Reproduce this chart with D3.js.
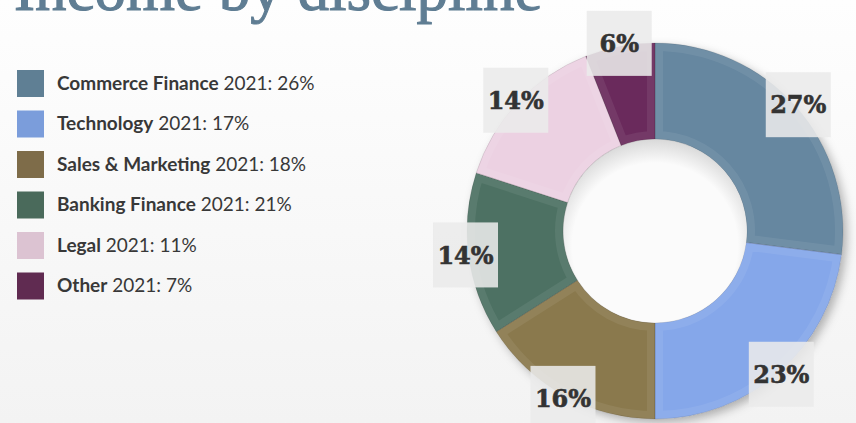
<!DOCTYPE html>
<html><head><meta charset="utf-8">
<script src="https://cdn.jsdelivr.net/npm/d3@7/dist/d3.min.js"></script>
<style>html,body{margin:0;padding:0;background:#fff;}svg{display:block;}</style>
</head><body>
<svg id="chart" width="856" height="423"></svg>
<script>
const title = "Income by discipline";
const categories = ["Commerce Finance","Technology","Sales & Marketing","Banking Finance","Legal","Other"];
const chartValues = [27, 23, 16, 14, 14, 6];
const legendYear = "2021";
const legendValues = [26, 17, 18, 21, 11, 7];

const sliceColors = ["#6687a0","#85a7ea","#8a794e","#4e7163","#ecd1e2","#6b2a5c"];
const legendColors = ["#5f7f94","#7b9ddb","#7e6c49","#4a6a5b","#dcc3d2","#602b51"];

const W = 856, H = 423;
const svg = d3.select("#chart");
const defs = svg.append("defs");

const bg = defs.append("linearGradient").attr("id","bg").attr("x1",0).attr("y1",0).attr("x2",0).attr("y2",1);
bg.append("stop").attr("offset","0%").attr("stop-color","#fefefe");
bg.append("stop").attr("offset","100%").attr("stop-color","#f3f3f3");
svg.append("rect").attr("width",W).attr("height",H).attr("fill","url(#bg)");

const sh = defs.append("filter").attr("id","shadow").attr("x","-20%").attr("y","-20%").attr("width","140%").attr("height","140%");
sh.append("feDropShadow").attr("dx",4).attr("dy",4).attr("stdDeviation",5).attr("flood-color","#000").attr("flood-opacity",0.28);

const hole = defs.append("radialGradient").attr("id","hole").attr("cx","50%").attr("cy","58%").attr("r","58%");
hole.append("stop").attr("offset","78%").attr("stop-color","#fbfbfb");
hole.append("stop").attr("offset","100%").attr("stop-color","#d9d9d9");

// Title
svg.append("text").attr("x",14).attr("y",10)
  .attr("font-family","'Liberation Serif','Times New Roman',serif")
  .attr("font-size",63).attr("fill","#5f7d93")
  .attr("stroke","#5f7d93").attr("stroke-width",1.1).text(title);

// Legend
const ly = d3.scaleLinear().domain([0,1]).range([70,110.5]);
const lg = svg.append("g").attr("font-family","Lato,'Open Sans',sans-serif").attr("font-size",19).attr("fill","#383838");
categories.forEach((c,i)=>{
  lg.append("rect").attr("x",17).attr("y",ly(i)).attr("width",27).attr("height",27).attr("fill",legendColors[i]);
  const t = lg.append("text").attr("x",57).attr("y",ly(i)+19.5);
  t.append("tspan").attr("font-weight","bold").text(c);
  t.append("tspan").text(" " + legendYear + ": " + legendValues[i] + "%");
});

// Donut
const cx = 655, cy = 231, R = 188, r = 92;
const pie = d3.pie().sort(null).value(d=>d);
const arcs = pie(chartValues);
const arc = d3.arc().innerRadius(r).outerRadius(R);
const g = svg.append("g").attr("transform",`translate(${cx},${cy})`);
const ring = g.append("g").attr("filter","url(#shadow)");
arcs.forEach((a,i)=>{
  defs.append("clipPath").attr("id","clip"+i).append("path").attr("d",arc(a));
  ring.append("path").attr("d",arc(a)).attr("fill",sliceColors[i]);
});
const bevel = g.append("g");
arcs.forEach((a,i)=>{
  bevel.append("path").attr("d",arc(a)).attr("fill","none")
    .attr("stroke","#fff").attr("stroke-opacity",0.07).attr("stroke-width",16)
    .attr("clip-path","url(#clip"+i+")");
  bevel.append("path").attr("d",arc(a)).attr("fill","none")
    .attr("stroke","#000").attr("stroke-opacity",0.15).attr("stroke-width",0.7);
});
g.append("circle").attr("r",r-0.5).attr("fill","url(#hole)");

// Labels
const labelArc = d3.arc().innerRadius(191).outerRadius(191);
const lab = g.append("g");
arcs.forEach((a,i)=>{
  const [x,y] = labelArc.centroid(a);
  lab.append("rect").attr("x",x-32.5).attr("y",y-32.5).attr("width",65).attr("height",65)
    .attr("fill","#ebebeb").attr("fill-opacity",0.88);
  lab.append("text").attr("x",x).attr("y",y).attr("text-anchor","middle").attr("dy","0.36em")
    .attr("font-family","'DejaVu Serif',serif").attr("font-weight","bold").attr("font-size",24)
    .attr("fill","#333").attr("stroke","#333").attr("stroke-width",0.6).text(chartValues[i] + "%");
});
</script>
</body></html>
